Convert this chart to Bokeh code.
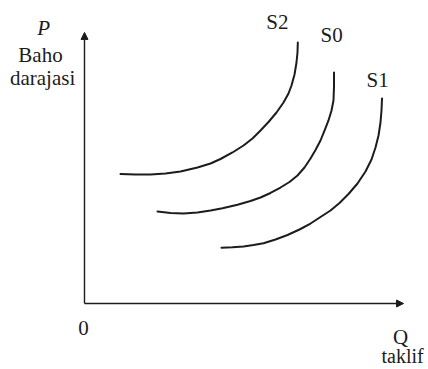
from bokeh.plotting import figure
from bokeh.models import Range1d, Arrow, NormalHead
from bokeh.core.properties import value
from bokeh.embed import file_html
from bokeh.resources import INLINE

# Supply curves (Q, P)
s2_q = [1.125, 1.594, 2.063, 2.531, 3.000, 3.531, 3.938, 4.250, 4.625, 4.969, 5.250,
        5.500, 5.750, 6.000, 6.219, 6.375, 6.469, 6.563, 6.625, 6.656, 6.666]
s2_p = [4.796, 4.778, 4.778, 4.815, 4.889, 5.037, 5.185, 5.352, 5.593, 5.852, 6.111,
        6.407, 6.722, 7.074, 7.444, 7.778, 8.074, 8.481, 8.926, 9.296, 9.667]

s0_q = [2.281, 2.688, 3.094, 3.531, 3.938, 4.313, 4.781, 5.188, 5.500, 5.813, 6.125,
        6.406, 6.656, 6.875, 7.063, 7.219, 7.375, 7.500, 7.625, 7.719, 7.781, 7.797, 7.797]
s0_p = [3.407, 3.352, 3.333, 3.370, 3.444, 3.526, 3.659, 3.796, 3.926, 4.093, 4.296,
        4.500, 4.741, 5.037, 5.370, 5.685, 6.037, 6.407, 6.778, 7.148, 7.519, 8.037, 8.556]

s1_q = [4.281, 4.625, 4.969, 5.281, 5.594, 5.969, 6.344, 6.719, 7.063, 7.375, 7.688,
        7.969, 8.250, 8.531, 8.781, 8.969, 9.094, 9.188, 9.250, 9.281, 9.297]
s1_p = [2.063, 2.081, 2.111, 2.167, 2.233, 2.370, 2.537, 2.741, 2.963, 3.204, 3.444,
        3.722, 4.056, 4.444, 4.889, 5.333, 5.778, 6.222, 6.704, 7.148, 7.593]

curve_names = ["S2", "S0", "S1"]
axis_labels_y = ["P", "Baho", "darajasi"]
axis_labels_x = ["Q", "taklif"]
origin_label = "0"

Q_MAX = 9.97
P_MAX = 10.04

INK = "#1c1c1c"
FONT = value("Liberation Serif")

p = figure(width=428, height=369,
           x_range=Range1d(-2.625, 10.75), y_range=Range1d(-2.444, 11.222),
           output_backend="svg", toolbar_location=None, min_border=0,
           x_axis_type=None, y_axis_type=None)
p.grid.visible = False
p.outline_line_color = None
p.background_fill_color = "white"
p.border_fill_color = "white"

# axes as arrows
p.add_layout(Arrow(end=NormalHead(size=7, fill_color=INK, line_color=INK, line_width=1),
                   x_start=0, y_start=0, x_end=0, y_end=P_MAX,
                   line_color=INK, line_width=1.4))
p.add_layout(Arrow(end=NormalHead(size=7, fill_color=INK, line_color=INK, line_width=1),
                   x_start=0, y_start=0, x_end=Q_MAX, y_end=0,
                   line_color=INK, line_width=1.4))

for qs, ps in [(s2_q, s2_p), (s0_q, s0_p), (s1_q, s1_p)]:
    p.line(qs, ps, line_color=INK, line_width=2, line_join="round", line_cap="round")

# curve labels
p.text(x=[6.03, 7.72, 9.16], y=[10.44, 9.93, 8.26], text=curve_names,
       text_font=FONT, text_font_size="21px", text_color=INK,
       text_align="center", text_baseline="middle")

# y axis labels
p.text(x=[-1.28], y=[10.19], text=[axis_labels_y[0]],
       text_font=FONT, text_font_size="21px", text_font_style="italic", text_color=INK,
       text_align="center", text_baseline="middle")
p.text(x=[-1.375, -1.31], y=[9.19, 8.37], text=axis_labels_y[1:],
       text_font=FONT, text_font_size="21px", text_color=INK,
       text_align="center", text_baseline="middle")

# x axis labels
p.text(x=[-0.03], y=[-0.89], text=[origin_label],
       text_font=FONT, text_font_size="21px", text_color=INK,
       text_align="center", text_baseline="middle")
p.text(x=[9.875], y=[-1.25], text=[axis_labels_x[0]],
       text_font=FONT, text_font_size="21px", text_color=INK,
       text_align="center", text_baseline="middle")
p.text(x=[9.94], y=[-1.95], text=[axis_labels_x[1]],
       text_font=FONT, text_font_size="20px", text_color=INK,
       text_align="center", text_baseline="middle")

open("out.html", "w").write(file_html(p, INLINE))
